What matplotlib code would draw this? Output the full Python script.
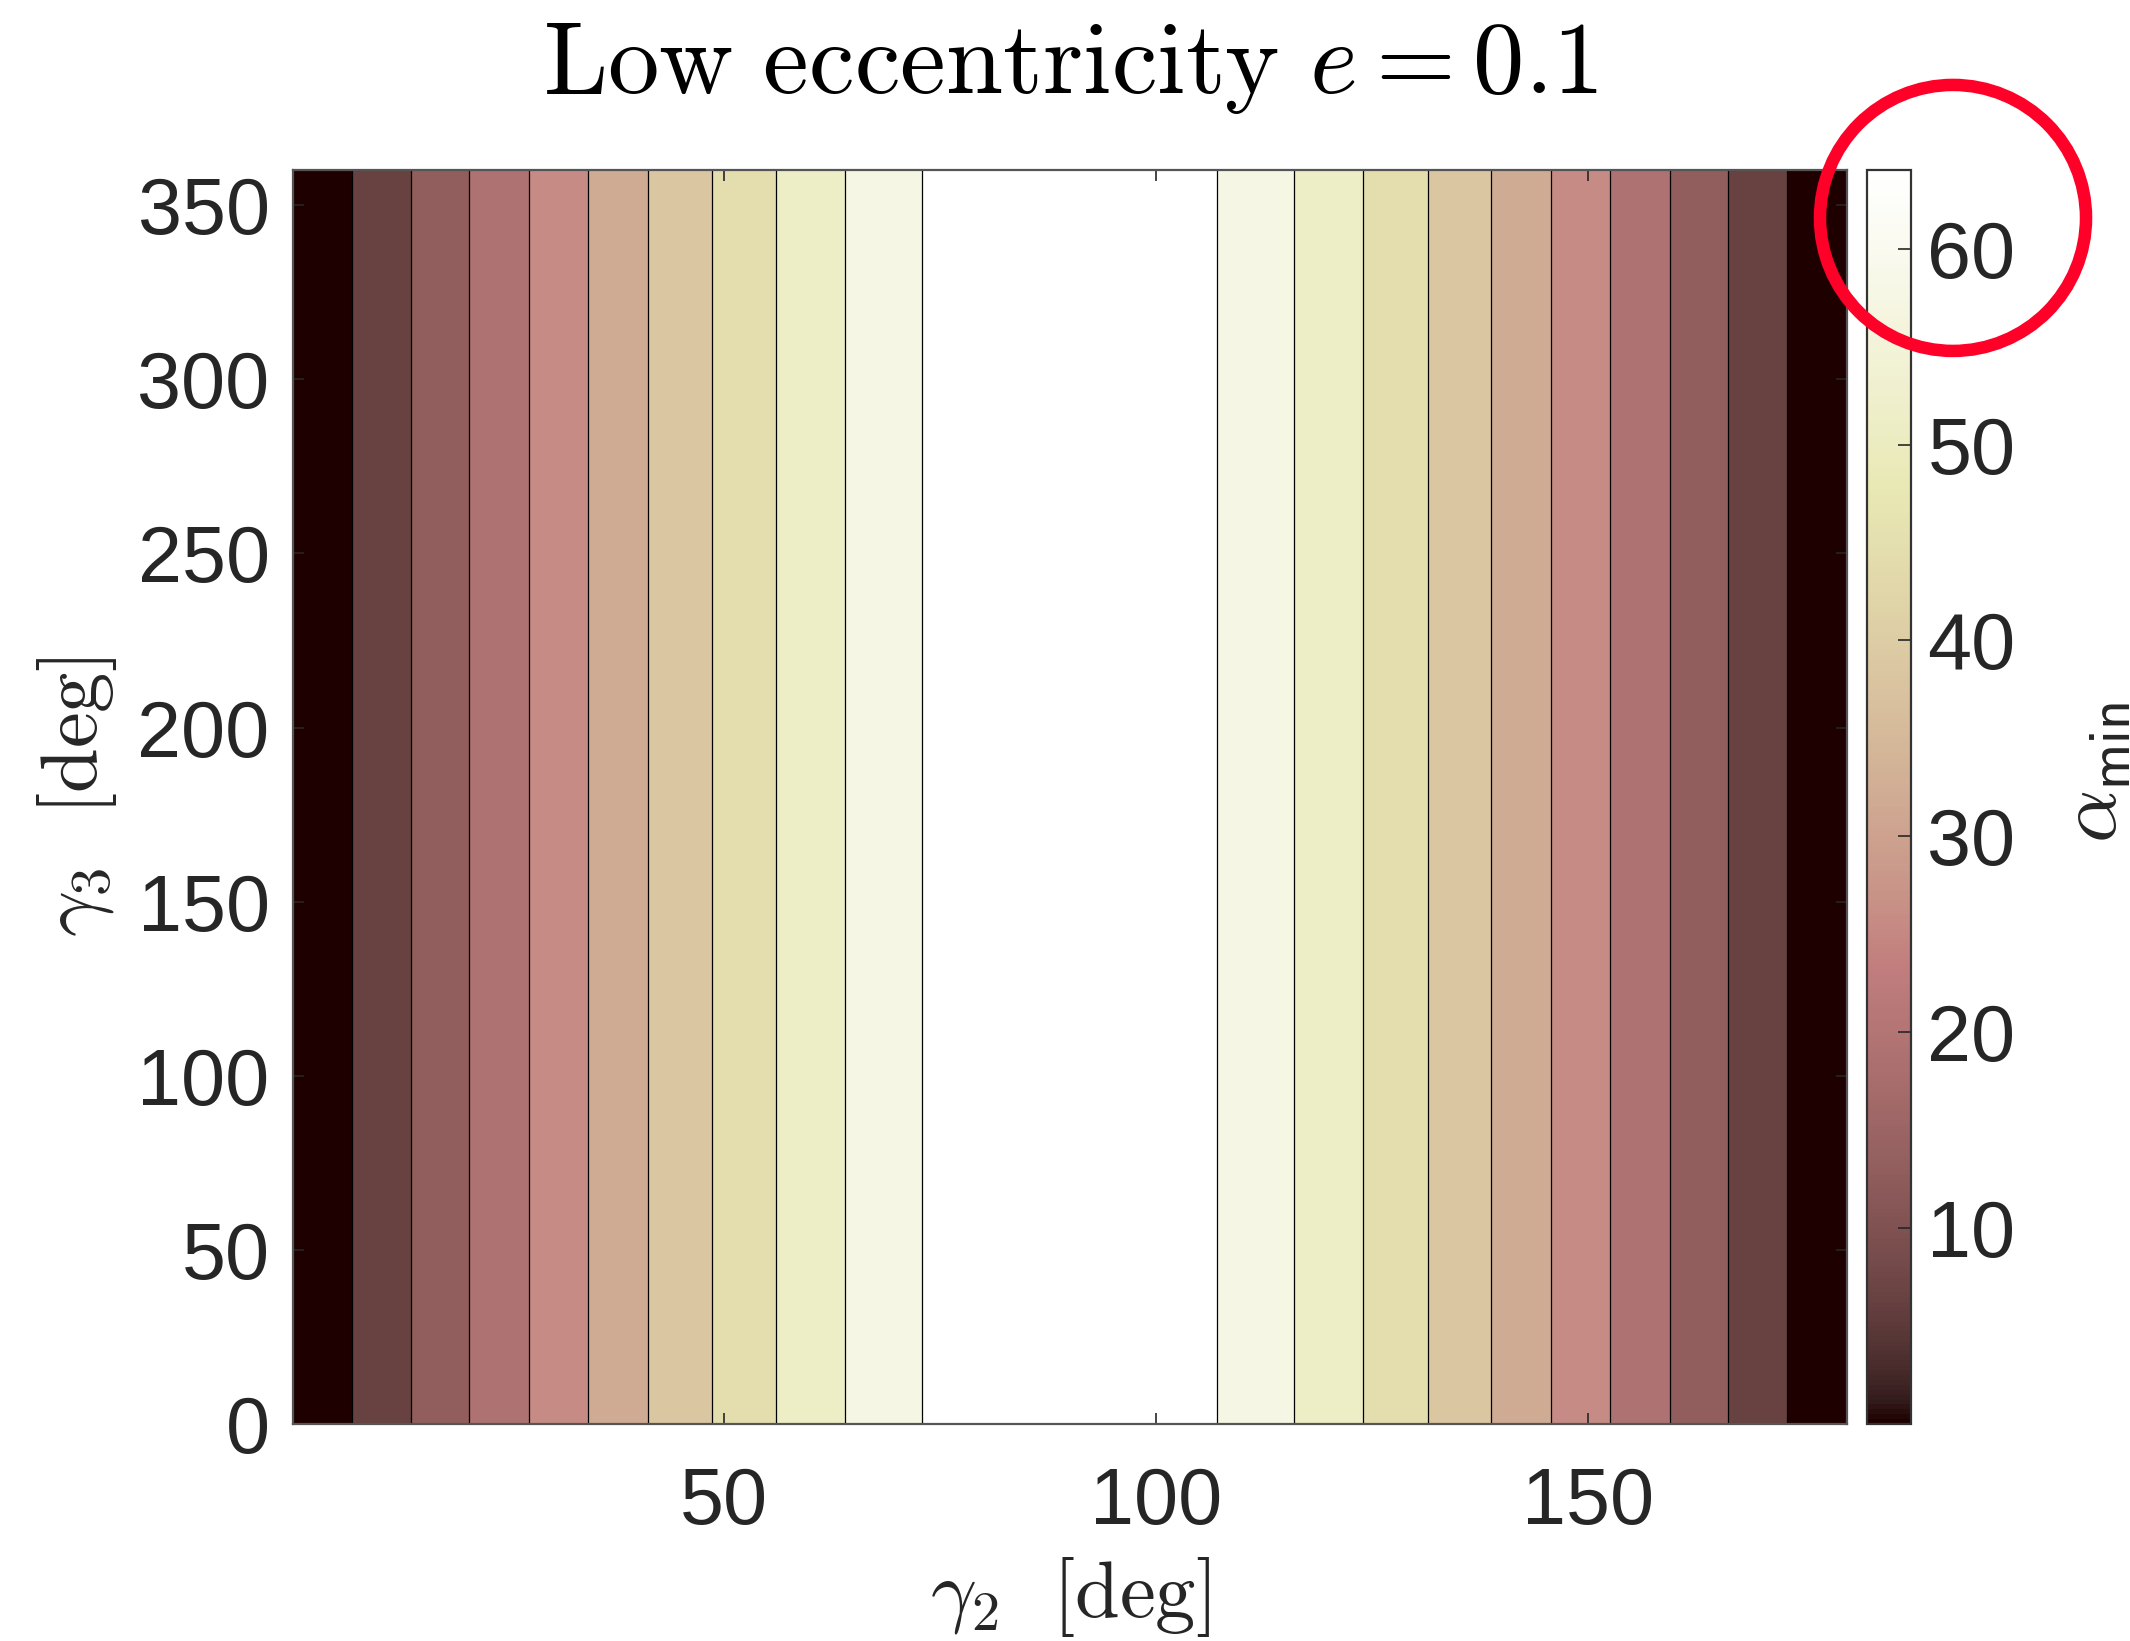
import numpy as np
import matplotlib
matplotlib.use("Agg")
import matplotlib.pyplot as plt
from matplotlib.colors import BoundaryNorm, Normalize
from matplotlib.cm import ScalarMappable
from matplotlib.patches import Ellipse

# gamma_2 sample points [deg] and alpha_min
gamma2 = [0.1, 10, 20, 30, 40, 50, 60, 70, 75, 80, 85, 90,
          95, 100, 105, 110, 120, 130, 140, 150, 160, 170, 179.9]
alpha_min = [0.1, 8.7, 17.6, 26.3, 35.0, 43.2, 51.2, 58.2, 61.3, 62.5, 63.5, 64.0,
             63.5, 62.5, 61.3, 58.2, 51.2, 43.2, 35.0, 26.3, 17.6, 8.7, 0.1]
gamma3 = [0, 360]
levels = [0, 6, 12, 18, 24, 30, 36, 42, 48, 54, 60, 66]
xticks = [50, 100, 150]
yticks = [0, 50, 100, 150, 200, 250, 300, 350]
cticks = [10, 20, 30, 40, 50, 60]
clim = (0, 64)

plt.rcParams['font.family'] = ['Liberation Sans', 'DejaVu Sans']
plt.rcParams['mathtext.fontset'] = 'cm'
txt = '#262626'

X, Y = np.meshgrid(gamma2, gamma3)
Z = np.tile(alpha_min, (len(gamma3), 1))

fig = plt.figure(figsize=(10.65, 8.205), dpi=200)
ax = fig.add_axes([0.1377, 0.1322, 0.7293, 0.764])
cax = fig.add_axes([0.8764, 0.1322, 0.02066, 0.764])

norm = BoundaryNorm(levels, 256)
ax.contourf(X, Y, Z, levels=levels, cmap='pink', norm=norm)
ax.contour(X, Y, Z, levels=levels[1:-1], colors='k', linewidths=0.45)

ax.set_xlim(0.1, 180)
ax.set_ylim(0, 360)
ax.set_xticks(xticks)
ax.set_yticks(yticks)
ax.tick_params(direction='in', length=4, width=0.6, colors=txt, labelsize=28.5,
               top=True, right=True)
ax.tick_params(axis='x', pad=15)
ax.tick_params(axis='y', pad=8.5)
for s in ax.spines.values():
    s.set_color('#555555')
    s.set_linewidth(0.8)

ax.set_xlabel(r'$\gamma_2\ \ [\mathrm{deg}]$', fontsize=29, color=txt, va='center')
ax.xaxis.set_label_coords(0.5, -0.138)
ax.set_ylabel(r'$\gamma_3\ \ [\mathrm{deg}]$', fontsize=29, color=txt, va='center')
ax.yaxis.set_label_coords(-0.139, 0.5)
ax.set_title(r'$\mathrm{Low\ eccentricity}\ e = 0.1$', fontsize=37, color='k', pad=28)

sm = ScalarMappable(norm=Normalize(*clim), cmap='pink')
cb = fig.colorbar(sm, cax=cax)
cb.set_ticks(cticks)
cb.ax.tick_params(direction='in', length=4.7, width=0.6, colors=txt, labelsize=28.5, pad=6)
cb.outline.set_edgecolor('#333333')
cb.outline.set_linewidth(0.8)
cb.set_label(r'$\alpha_{\mathsf{min}}$', fontsize=30, color=txt, va='center')
cb.ax.yaxis.set_label_coords(5.19, 0.52)

# red highlight ring around the top of the colour bar
ring = Ellipse((0.9169, 0.8672), 0.1249, 0.1621, transform=fig.transFigure,
               fill=False, edgecolor='#ff0029', linewidth=4.5, zorder=10)
fig.add_artist(ring)

fig.savefig('out.png', dpi=200)
